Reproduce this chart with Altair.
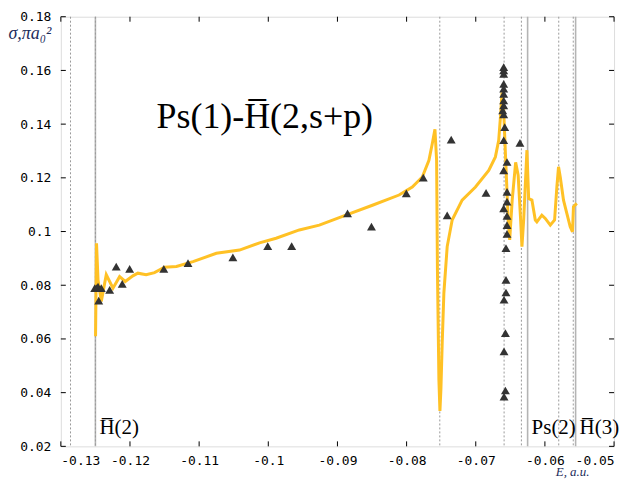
import altair as alt
import pandas as pd

# ---- data ----
curve_E = [-0.12498, -0.12484, -0.12462, -0.12415, -0.12343, -0.12246, -0.12150, -0.12069,
           -0.11958, -0.11886, -0.11766, -0.11645, -0.11501, -0.11328, -0.11089, -0.10751,
           -0.10416, -0.10127, -0.09887, -0.09551, -0.09262, -0.08878, -0.08494, -0.08109,
           -0.07918, -0.07773, -0.07677, -0.07629, -0.07590, -0.07566, -0.07554, -0.07533,
           -0.07518, -0.07504, -0.07485, -0.07461, -0.07413, -0.07341, -0.07197, -0.07004,
           -0.06812, -0.06716, -0.06668, -0.06643, -0.06620, -0.06596, -0.06567, -0.06531,
           -0.06509, -0.06473, -0.06423, -0.06387, -0.06351, -0.06332, -0.06307, -0.06260,
           -0.06235, -0.06188, -0.06139, -0.06116, -0.06044, -0.05995, -0.05922, -0.05860,
           -0.05827, -0.05803, -0.05778, -0.05731, -0.05683, -0.05634, -0.05601, -0.05587,
           -0.05539]
curve_sigma = [0.0610, 0.0956, 0.0820, 0.0740, 0.0839, 0.0789, 0.0832, 0.0814,
               0.0835, 0.0845, 0.0839, 0.0847, 0.0867, 0.0870, 0.0888, 0.0919,
               0.0931, 0.0958, 0.0975, 0.1006, 0.1024, 0.1061, 0.1098, 0.1136,
               0.1166, 0.1203, 0.1265, 0.1327, 0.1381, 0.1265, 0.0857, 0.0449,
               0.0332, 0.0412, 0.0585, 0.0771, 0.0944, 0.1043, 0.1117, 0.1166,
               0.1228, 0.1278, 0.1340, 0.1426, 0.1518, 0.1451, 0.1265, 0.1043,
               0.0969, 0.1117, 0.1258, 0.1210, 0.1043, 0.0944, 0.1043, 0.1303,
               0.1123, 0.1117, 0.1043, 0.1036, 0.1061, 0.1049, 0.1024, 0.1043,
               0.1166, 0.1241, 0.1203, 0.1117, 0.1068, 0.1018, 0.0999, 0.1092,
               0.1105]

pts_E = [-0.12510, -0.12487, -0.12462, -0.12415, -0.12452, -0.12294, -0.12199, -0.12112,
         -0.12005, -0.11511, -0.11161, -0.10512, -0.10008, -0.09662, -0.08854, -0.08508,
         -0.08004, -0.07759, -0.07355, -0.07413, -0.06851, -0.06361,
         -0.06596, -0.06596, -0.06596, -0.06596, -0.06596, -0.06596, -0.06596, -0.06610,
         -0.06596, -0.06581, -0.06596, -0.06548, -0.06596, -0.06548, -0.06548, -0.06596,
         -0.06548, -0.06548, -0.06548, -0.06563, -0.06563, -0.06563, -0.06591, -0.06571,
         -0.06591, -0.06571, -0.06591, -0.06596]
pts_sigma = [0.0789, 0.0789, 0.0795, 0.0789, 0.0743, 0.0783, 0.0869, 0.0805,
             0.0861, 0.0861, 0.0882, 0.0904, 0.0946, 0.0946, 0.1068, 0.1018,
             0.1142, 0.1201, 0.1342, 0.1060, 0.1144, 0.1330,
             0.1612, 0.1587, 0.1550, 0.1532, 0.1513, 0.1488, 0.1470, 0.1451,
             0.1436, 0.1389, 0.1340, 0.1259, 0.1228, 0.1148, 0.1111, 0.1086,
             0.1058, 0.1024, 0.0991, 0.0938, 0.0820, 0.0773, 0.0746, 0.0622,
             0.0554, 0.0408, 0.0385, 0.1600]

dotted_E = [-0.1286, -0.125, -0.0752, -0.0659, -0.0634, -0.0580, -0.0559]
solid_E = [-0.125, -0.0625, -0.05556]
threshold_E = [-0.125, -0.0625, -0.05556]
threshold_text = ["H\u0305(2)", "Ps(2)", "H\u0305(3)"]

x_ticks = [-0.13, -0.12, -0.11, -0.10, -0.09, -0.08, -0.07, -0.06, -0.05]
y_ticks = [0.02, 0.04, 0.06, 0.08, 0.10, 0.12, 0.14, 0.16, 0.18]

title_text = "Ps(1)-H\u0305(2,s+p)"

# ---- chart ----
W, H = 555, 431
xs = alt.Scale(domain=[-0.13, -0.05], nice=False, zero=False)
ys = alt.Scale(domain=[0.02, 0.18], nice=False, zero=False)

curve_df = pd.DataFrame({"E": curve_E, "sigma": curve_sigma, "i": range(len(curve_E))})
pts_df = pd.DataFrame({"E": pts_E, "sigma": pts_sigma})
dot_df = pd.DataFrame({"E": dotted_E})
sol_df = pd.DataFrame({"E": solid_E})
thr_df = pd.DataFrame({"E": threshold_E, "t": threshold_text})
xt_df = pd.DataFrame({"E": x_ticks})
yt_df = pd.DataFrame({"sigma": y_ticks})

minus_fix = "replace(format(datum.value, '.2~f'), '\u2212', '-')"
mono = "DejaVu Sans Mono, Liberation Mono, monospace"

x_axis = alt.Axis(values=x_ticks, labelExpr=minus_fix, tickSize=0, domain=False,
                  grid=False, labelPadding=8, labelFont=mono,
                  labelFontSize=13, labelColor="#000",
                  title="E, a.u.", titleFont="Liberation Serif", titleFontStyle="italic",
                  titleFontWeight="normal", titleFontSize=13, titleColor="#1c2b5a",
                  titleAlign="left", titleBaseline="alphabetic",
                  titleX=496, titleY=29)
y_axis = alt.Axis(values=y_ticks, labelExpr=minus_fix, tickSize=0, domain=False,
                  grid=False, labelPadding=10, labelFont=mono,
                  labelFontSize=13, labelColor="#000",
                  title="σ,πa₀²", titleFont="Liberation Serif", titleFontStyle="italic",
                  titleFontWeight="normal", titleFontSize=18, titleColor="#1c2b5a",
                  titleAngle=0, titleAlign="left", titleBaseline="alphabetic",
                  titleX=-53, titleY=22)

X = alt.X("E:Q", scale=xs, axis=x_axis)
Y = alt.Y("sigma:Q", scale=ys, axis=y_axis)

solid = alt.Chart(sol_df).mark_rule(color="#b4b4b4", strokeWidth=1.6).encode(x=X)
dotted = alt.Chart(dot_df).mark_rule(color="#9a9a9a", strokeWidth=1, strokeDash=[2, 2]).encode(x=X)

line = alt.Chart(curve_df).mark_line(color="#FFC125", strokeWidth=3).encode(
    x=X, y=Y, order="i:Q")

points = alt.Chart(pts_df).mark_point(shape="triangle-up", filled=True, color="#333333",
                                      size=80, opacity=1).encode(x=X, y=Y)

tick_b = alt.Chart(xt_df).mark_rule(color="black").encode(
    x=X, y=alt.value(H), y2=alt.value(H - 5))
tick_t = alt.Chart(xt_df).mark_rule(color="black").encode(
    x=X, y=alt.value(0), y2=alt.value(5))
tick_l = alt.Chart(yt_df).mark_rule(color="black").encode(
    y=Y, x=alt.value(0), x2=alt.value(5))
tick_r = alt.Chart(yt_df).mark_rule(color="black").encode(
    y=Y, x=alt.value(W), x2=alt.value(W - 5))

thr_text = alt.Chart(thr_df).mark_text(font="Liberation Serif", fontSize=21, align="left",
                                       baseline="alphabetic", dx=4, color="#000").encode(
    x=X, y=alt.value(419), text="t:N")

big_title = alt.Chart(pd.DataFrame({"t": [title_text]})).mark_text(
    font="Liberation Serif", fontSize=36, align="left", baseline="alphabetic",
    color="#000").encode(x=alt.value(96), y=alt.value(112), text="t:N")

chart = alt.layer(solid, dotted, line, points, tick_b, tick_t, tick_l, tick_r,
                  thr_text, big_title).properties(
    width=W, height=H,
    autosize=alt.AutoSizeParams(type="none"),
    padding={"left": 53, "top": 8, "right": 18, "bottom": 33},
).configure_view(stroke="black", strokeWidth=1).configure(background="white")

chart.save("out.html", embed_options={"renderer": "svg", "actions": False})
